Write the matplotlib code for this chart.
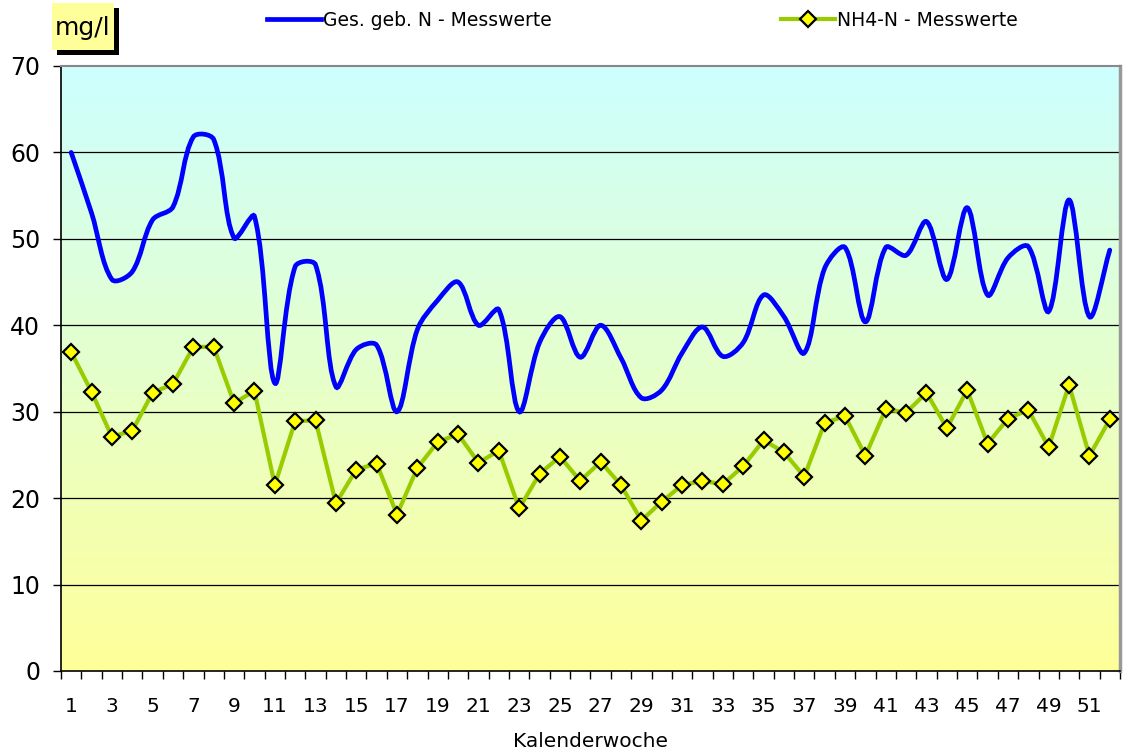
import matplotlib
matplotlib.use("Agg")
import matplotlib.pyplot as plt
import numpy as np
from matplotlib.path import Path
from matplotlib.patches import PathPatch, Rectangle
from matplotlib.lines import Line2D

plt.rcParams['font.family'] = ['DejaVu Sans']

weeks = np.arange(1, 53)

# Ges. geb. N - Messwerte
ges_n = [60.0, 53.0, 45.3, 46.2, 52.2, 53.7, 61.8, 61.5, 50.1, 52.6,
         33.3, 46.8, 47.0, 32.9, 37.2, 37.7, 30.0, 39.5, 42.9, 45.0,
         40.0, 41.8, 30.0, 38.0, 41.0, 36.3, 40.0, 36.2, 31.6, 32.5,
         36.8, 39.8, 36.4, 38.0, 43.5, 41.0, 36.8, 46.6, 49.0, 40.4,
         49.0, 48.1, 52.0, 45.3, 53.6, 43.5, 47.8, 49.1, 41.6, 54.5,
         41.0, 48.7]

# NH4-N - Messwerte
nh4_n = [36.9, 32.3, 27.1, 27.8, 32.2, 33.2, 37.5, 37.5, 31.0, 32.4,
         21.5, 28.9, 29.0, 19.4, 23.3, 24.0, 18.1, 23.5, 26.5, 27.4,
         24.1, 25.5, 18.8, 22.8, 24.8, 22.0, 24.2, 21.5, 17.4, 19.6,
         21.5, 22.0, 21.6, 23.7, 26.7, 25.3, 22.5, 28.7, 29.5, 24.9,
         30.3, 29.9, 32.2, 28.1, 32.5, 26.3, 29.2, 30.2, 25.9, 33.1,
         24.9, 29.1]

xtick_labels = [str(w) for w in range(1, 53, 2)]

blue = '#0000FF'
green = '#99CC00'

fig = plt.figure(figsize=(11.23, 7.55), dpi=100)
ax = fig.add_axes([0.0543, 0.1113, 0.943, 0.8013])
ax.set_xlim(0.5, 52.5)
ax.set_ylim(0, 70)

# gradient background (cyan top -> light yellow bottom)
top = np.array([0xCC, 0xFF, 0xFF]) / 255
bot = np.array([0xFF, 0xFF, 0x99]) / 255
t = np.linspace(0, 1, 256)[:, None]
grad = (top * (1 - t) + bot * t)[:, None, :]
ax.imshow(grad, extent=[0.5, 52.5, 0, 70], aspect='auto', zorder=0)

for yv in range(10, 70, 10):
    ax.axhline(yv, color='black', lw=0.9, zorder=1)


def smooth_path(x, y, sx, sy):
    # Bezier smoothing like a spreadsheet "smoothed line";
    # tangent length depends on neighbouring segment lengths on screen
    pts = np.column_stack([x, y]).astype(float)
    ext = np.vstack([pts[0], pts, pts[-1]])
    scr = ext * [sx, sy]

    def d(a, b):
        return np.hypot(*(scr[a] - scr[b]))

    verts = [pts[0]]
    codes = [Path.MOVETO]
    for i in range(1, len(ext) - 2):
        p0, p1, p2, p3 = ext[i - 1], ext[i], ext[i + 1], ext[i + 2]
        d01, d12, d23 = d(i - 1, i), d(i, i + 1), d(i + 1, i + 2)
        f1 = d12 / (d01 + d12) if d01 + d12 > 0 else 0
        f2 = d12 / (d12 + d23) if d12 + d23 > 0 else 0
        verts += [p1 + (p2 - p0) / 3 * f1, p2 - (p3 - p1) / 3 * f2, p2]
        codes += [Path.CURVE4] * 3
    return Path(verts, codes)


bbox = ax.get_window_extent()
sx = bbox.width / 52
sy = bbox.height / 70
ax.add_patch(PathPatch(smooth_path(weeks, ges_n, sx, sy), facecolor='none',
                       edgecolor=blue, lw=3.4, capstyle='round', zorder=3))

ax.plot(weeks, nh4_n, color=green, lw=3.0, marker='D', markersize=8,
        markerfacecolor='#FFFF00', markeredgecolor='black',
        markeredgewidth=1.6, zorder=4)

ax.set_yticks(range(0, 71, 10))
ax.tick_params(axis='y', labelsize=17, length=6, width=1, pad=9)
ax.set_xticks(range(1, 53, 2))
ax.set_xticklabels(xtick_labels)
ax.set_xticks(np.arange(0.5, 53, 1), minor=True)
ax.tick_params(axis='x', which='major', length=0, labelsize=14.5, pad=19)
ax.tick_params(axis='x', which='minor', length=6, width=1)
ax.set_xlabel('Kalenderwoche', fontsize=14.5, labelpad=11)

ax.spines['left'].set_color('black')
ax.spines['bottom'].set_color('black')
ax.spines['left'].set_linewidth(1.2)
ax.spines['bottom'].set_linewidth(1.2)
ax.spines['top'].set_color('#888888')
ax.spines['top'].set_linewidth(1.5)
ax.spines['right'].set_color('#999999')
ax.spines['right'].set_linewidth(2.5)

# mg/l box with shadow
fig.patches.append(Rectangle((57 / 1123, 1 - 55 / 755), 62 / 1123, 47 / 755,
                             transform=fig.transFigure, facecolor='black',
                             edgecolor='none'))
fig.patches.append(Rectangle((52 / 1123, 1 - 50 / 755), 62 / 1123, 47 / 755,
                             transform=fig.transFigure, facecolor='#FFFF99',
                             edgecolor='none'))
fig.text(83 / 1123, 1 - 28 / 755, 'mg/l', fontsize=18, ha='center',
         va='center')

handles = [Line2D([], [], color=blue, lw=3.4),
           Line2D([], [], color=green, lw=3.0, marker='D', markersize=8,
                  markerfacecolor='#FFFF00', markeredgecolor='black',
                  markeredgewidth=1.6)]
fig.legend(handles, ['Ges. geb. N - Messwerte', 'NH4-N - Messwerte'],
           loc='center', bbox_to_anchor=(0.572, 1 - 20 / 755), ncol=2,
           frameon=False, fontsize=13.5, handlelength=2.9, handletextpad=0.1,
           columnspacing=12.2)

fig.savefig('out.png', dpi=100)
